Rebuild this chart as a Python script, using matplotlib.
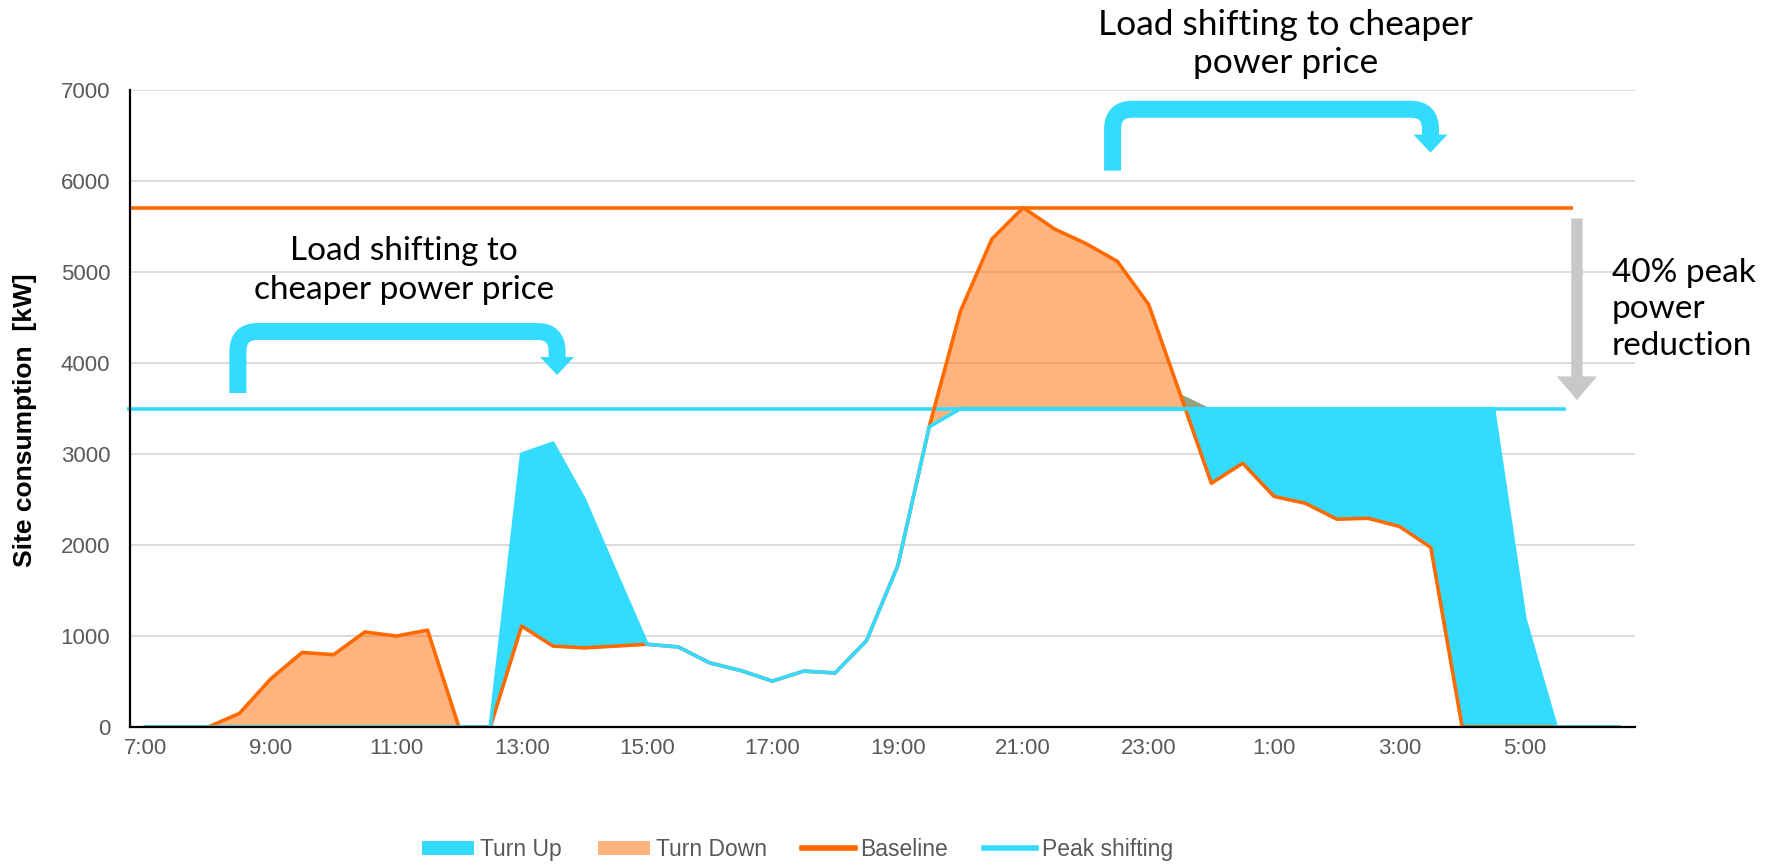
import matplotlib
matplotlib.use("Agg")
import matplotlib.pyplot as plt
import numpy as np
from matplotlib.path import Path
from matplotlib.patches import PathPatch, Polygon, FancyArrowPatch
from matplotlib.transforms import IdentityTransform

# half-hourly categories, 7:00 -> 6:30 next day
times = ["7:00", "7:30", "8:00", "8:30", "9:00", "9:30", "10:00", "10:30",
         "11:00", "11:30", "12:00", "12:30", "13:00", "13:30", "14:00", "14:30",
         "15:00", "15:30", "16:00", "16:30", "17:00", "17:30", "18:00", "18:30",
         "19:00", "19:30", "20:00", "20:30", "21:00", "21:30", "22:00", "22:30",
         "23:00", "23:30", "0:00", "0:30", "1:00", "1:30", "2:00", "2:30",
         "3:00", "3:30", "4:00", "4:30", "5:00", "5:30", "6:00", "6:30"]

baseline = [0, 0, 0, 150, 530, 820, 795, 1045,
            1000, 1065, 0, 0, 1110, 890, 870, 890,
            910, 880, 705, 620, 505, 615, 595, 950,
            1775, 3300, 4575, 5365, 5710, 5475, 5315, 5120,
            4645, 3665, 2680, 2900, 2535, 2460, 2285, 2295,
            2205, 1975, 0, 0, 0, 0, 0, 0]

peak_shifting = [0, 0, 0, 0, 0, 0, 0, 0,
                 0, 0, 0, 0, 3000, 3120, 2500, 1700,
                 910, 880, 705, 620, 505, 615, 595, 950,
                 1775, 3300, 3500, 3500, 3500, 3500, 3500, 3500,
                 3500, 3500, 3500, 3500, 3500, 3500, 3500, 3500,
                 3500, 3500, 3500, 3500, 1190, 0, 0, 0]

peak_before = 5710   # baseline peak
peak_after = 3500    # peak after shifting
y_ticks = [0, 1000, 2000, 3000, 4000, 5000, 6000, 7000]

CYAN = "#33DBFF"
ORANGE = "#FF6A00"
GRID = "#D9D9D9"
TICK = "#595959"
TXT_FONT = ["Lato", "DejaVu Sans"]
NUM_FONT = ["Liberation Sans", "DejaVu Sans"]

fig = plt.figure(figsize=(17.7, 8.65), dpi=100)
ax = fig.add_axes([0.0733, 0.1595, 0.8502, 0.7361])

x = np.arange(len(times))
b = np.array(baseline, dtype=float)
p = np.array(peak_shifting, dtype=float)
top = np.maximum(b, p)

ax.fill_between(x, b, top, color=CYAN, lw=0, zorder=1, label="Turn Up")
ax.fill_between(x, p, top, color=ORANGE, alpha=0.5, lw=0, zorder=1.5, label="Turn Down")

ax.hlines(peak_before, -0.5, 45.55, color=ORANGE, lw=2.6, zorder=2, clip_on=False)
ax.hlines(peak_after, -0.6, 45.3, color=CYAN, lw=2.6, zorder=2, clip_on=False)

ax.plot(x, b, color=ORANGE, lw=2.6, zorder=3, label="Baseline")
ax.plot(x, p, color=CYAN, lw=2.6, zorder=4, label="Peak shifting")

ax.set_xlim(-0.5, len(times) - 0.5)
ax.set_ylim(0, 7000)
ax.set_yticks(y_ticks)
ax.set_xticks(x[::4])
ax.set_xticklabels(times[::4])
ax.tick_params(length=0, labelsize=16, labelcolor=TICK)
ax.tick_params(axis="y", pad=14)
ax.tick_params(axis="x", pad=8)
for lab in ax.get_xticklabels() + ax.get_yticklabels():
    lab.set_family(NUM_FONT)
ax.yaxis.grid(True, color=GRID, lw=1.3)
ax.set_axisbelow(True)
for s in ["top", "right"]:
    ax.spines[s].set_visible(False)
for s in ["left", "bottom"]:
    ax.spines[s].set_color("black")
    ax.spines[s].set_linewidth(1.6)
    ax.spines[s].set_zorder(5)

fig.text(0.014, 0.514, "Site consumption  [kW]", rotation=90, ha="center",
         va="center", fontsize=19, fontweight="bold", family=NUM_FONT)


def bracket_arrow(x_start, x_end, y_start, y_bar, y_tip, color,
                  stroke_px=17, head_w_px=34, head_len_px=17, radius_px=20):
    to_px = ax.transData.transform
    (xa, ya), (xb, yb), (_, yt) = to_px([(x_start, y_start), (x_end, y_bar),
                                         (x_end, y_tip)])
    r = radius_px
    y_base = yt + head_len_px
    verts = [(xa, ya), (xa, yb - r), (xa, yb), (xa + r, yb),
             (xb - r, yb), (xb, yb), (xb, yb - r), (xb, y_base)]
    codes = [Path.MOVETO, Path.LINETO, Path.CURVE3, Path.CURVE3,
             Path.LINETO, Path.CURVE3, Path.CURVE3, Path.LINETO]
    ax.add_patch(PathPatch(Path(verts, codes), fill=False, ec=color,
                           lw=stroke_px * 72 / fig.dpi, capstyle="butt",
                           transform=IdentityTransform(), clip_on=False, zorder=6))
    ax.add_patch(Polygon([(xb - head_w_px / 2, y_base + 1),
                          (xb + head_w_px / 2, y_base + 1), (xb, yt)],
                         closed=True, fc=color, ec="none",
                         transform=IdentityTransform(), clip_on=False, zorder=6))


bracket_arrow(2.95, 13.13, 3672, 4349, 3870, CYAN)
bracket_arrow(30.85, 40.99, 6117, 6792, 6315, CYAN)

ax.add_patch(FancyArrowPatch((45.66, 5591), (45.66, 3595),
                             arrowstyle="simple,head_width=29,head_length=17,tail_width=8.2",
                             mutation_scale=1, color="#C8C8C8", lw=0,
                             shrinkA=0, shrinkB=0, clip_on=False, zorder=6))

ax.text(8.25, 5015, "Load shifting to\ncheaper power price", ha="center",
        va="center", fontsize=24, family=TXT_FONT, linespacing=1.37)
ax.text(36.37, 7509, "Load shifting to cheaper\npower price", ha="center",
        va="center", fontsize=25.5, family=TXT_FONT, linespacing=1.22)
ax.text(46.78, 4592, "40% peak\npower\nreduction", ha="left",
        va="center", fontsize=24, family=TXT_FONT, linespacing=1.27)

leg = fig.legend(loc="center", bbox_to_anchor=(0.4506, 0.018), ncol=4,
                 frameon=False, handlelength=2.27, handleheight=0.54,
                 handletextpad=0.26, columnspacing=1.57,
                 prop={"family": NUM_FONT, "size": 16.5})
for t in leg.get_texts():
    t.set_color(TICK)
for h in leg.legend_handles:
    if hasattr(h, "set_linewidth") and not hasattr(h, "get_facecolor"):
        h.set_linewidth(4)

fig.savefig("out.png", dpi=100)
